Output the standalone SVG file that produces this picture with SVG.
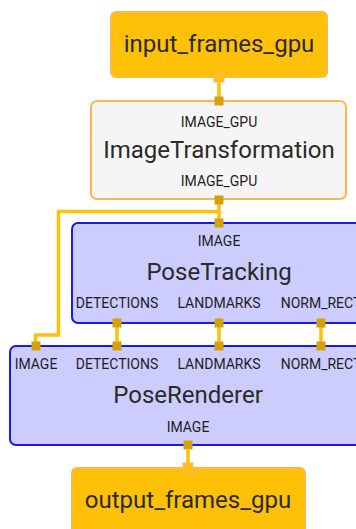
<svg xmlns="http://www.w3.org/2000/svg" width="356" height="529" viewBox="0 0 356 529">
  <style>
    .io rect { fill: #FFC107; stroke: #FFB74D; stroke-width: 2; }
    .calc-cpu rect.box { fill: #F5F5F5; stroke: #FFB74D; stroke-width: 2; }
    .sub rect.box { fill: #CCCCFF; stroke: #1A1AF0; stroke-width: 2; }
    .title { font-family: Roboto, "Liberation Sans", sans-serif; font-size: 24px; fill: #2a2a2a; text-anchor: middle; dominant-baseline: central; }
    .port { font-family: Roboto, "Liberation Sans", sans-serif; font-size: 14px; fill: #1e1e1e; text-anchor: middle; dominant-baseline: central; }
    .edge { fill: none; stroke: #FFC107; stroke-width: 3.5; }
    .pin { fill: #D4A106; }
  </style>

  <!-- connectors -->
  <g id="edges">
    <path class="edge" d="M219 80 V98"/>
    <path class="edge" d="M219 204 V220"/>
    <path class="edge" d="M219 211.5 H58.5 V335 H35.5 V343"/>
    <path class="edge" d="M117 326 V343"/>
    <path class="edge" d="M219 326 V343"/>
    <path class="edge" d="M321 326 V343"/>
    <path class="edge" d="M188 450 V465"/>
  </g>

  <g id="input_frames_gpu" class="io">
    <rect x="111" y="12" width="216" height="65" rx="5"/>
    <text class="title" x="219" y="44">input_frames_gpu</text>
    <rect class="pin" x="214.5" y="72.5" width="9" height="9"/>
  </g>

  <g id="ImageTransformation" class="calc-cpu">
    <rect class="box" x="91" y="101" width="255" height="98" rx="6"/>
    <rect class="pin" x="214.5" y="96.5" width="9" height="9"/>
    <text class="port" x="219" y="122">IMAGE_GPU</text>
    <text class="title" x="219" y="150">ImageTransformation</text>
    <text class="port" x="219" y="181">IMAGE_GPU</text>
    <rect class="pin" x="214.5" y="195.5" width="9" height="9"/>
  </g>

  <g id="PoseTracking" class="sub">
    <rect class="box" x="72" y="223" width="294" height="100" rx="6"/>
    <rect class="pin" x="214.5" y="218.5" width="9" height="9"/>
    <text class="port" x="219" y="241">IMAGE</text>
    <text class="title" x="219" y="272">PoseTracking</text>
    <text class="port" x="117" y="303">DETECTIONS</text>
    <text class="port" x="219" y="303">LANDMARKS</text>
    <text class="port" x="321" y="303">NORM_RECT</text>
    <rect class="pin" x="112.5" y="318.5" width="9" height="9"/>
    <rect class="pin" x="214.5" y="318.5" width="9" height="9"/>
    <rect class="pin" x="316.5" y="318.5" width="9" height="9"/>
  </g>

  <g id="PoseRenderer" class="sub">
    <rect class="box" x="10" y="346" width="356" height="99" rx="6"/>
    <rect class="pin" x="31.5" y="341.5" width="9" height="9"/>
    <rect class="pin" x="112.5" y="341.5" width="9" height="9"/>
    <rect class="pin" x="214.5" y="341.5" width="9" height="9"/>
    <rect class="pin" x="316.5" y="341.5" width="9" height="9"/>
    <text class="port" x="36" y="364">IMAGE</text>
    <text class="port" x="117" y="364">DETECTIONS</text>
    <text class="port" x="219" y="364">LANDMARKS</text>
    <text class="port" x="321" y="364">NORM_RECT</text>
    <text class="title" x="188" y="395">PoseRenderer</text>
    <text class="port" x="188" y="427">IMAGE</text>
    <rect class="pin" x="183.5" y="440.5" width="9" height="9"/>
  </g>

  <g id="output_frames_gpu" class="io">
    <rect x="72" y="468" width="233" height="70" rx="5"/>
    <rect class="pin" x="183.5" y="463.5" width="9" height="9"/>
    <text class="title" x="188" y="500">output_frames_gpu</text>
  </g>
</svg>
